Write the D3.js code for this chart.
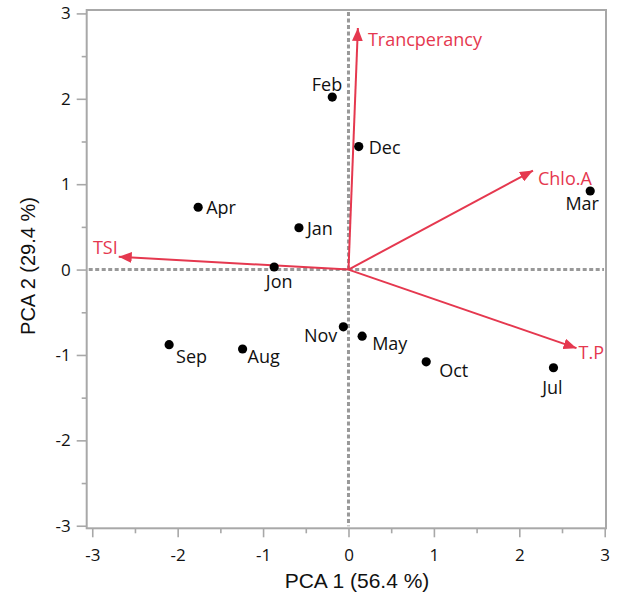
<!DOCTYPE html>
<html>
<head>
<meta charset="utf-8">
<script src="https://cdn.jsdelivr.net/npm/d3@7"></script>
<style>
  html, body { margin: 0; padding: 0; background: #ffffff; }
  svg { display: block; }
</style>
</head>
<body>
<div id="chart"></div>
<script>
// Sample scores (months) on the first two principal components
const months = ["Feb", "Dec", "Mar", "Apr", "Jan", "Jon", "Sep", "Aug", "Nov", "May", "Oct", "Jul"];
const pc1Scores = [-0.19, 0.12, 2.83, -1.76, -0.58, -0.87, -2.10, -1.24, -0.06, 0.16, 0.91, 2.40];
const pc2Scores = [2.02, 1.44, 0.92, 0.73, 0.49, 0.03, -0.88, -0.93, -0.67, -0.78, -1.08, -1.15];

// Variable loadings (arrow tips)
const variables = ["Trancperancy", "Chlo.A", "TSI", "T.P"];
const pc1Loadings = [0.11, 2.16, -2.69, 2.67];
const pc2Loadings = [2.83, 1.16, 0.15, -0.92];

// Axis ticks
const xTicks = [-3, -2, -1, 0, 1, 2, 3];
const yTicks = [-3, -2, -1, 0, 1, 2, 3];
const xMinorTicks = [-2.5, -1.5, -0.5, 0.5, 1.5, 2.5];
const yMinorTicks = [-2.5, -1.5, -0.5, 0.5, 1.5, 2.5];
const xTitle = "PCA 1 (56.4 %)";
const yTitle = "PCA 2 (29.4 %)";

const W = 621, H = 594;
const plotLeft = 86.7, plotRight = 606, plotTop = 10, plotBottom = 528.3;
const red = "#e5384f";

const x = d3.scaleLinear().domain([-3.065, 3.015]).range([plotLeft, plotRight]);
const y = d3.scaleLinear().domain([-3.03, 3.04]).range([plotBottom, plotTop]);

const svg = d3.select("#chart").append("svg")
  .attr("width", W).attr("height", H);

const defs = svg.append("defs");
defs.append("marker")
  .attr("id", "arrowhead")
  .attr("viewBox", "0 0 12 10")
  .attr("refX", 12).attr("refY", 5)
  .attr("markerWidth", 13).attr("markerHeight", 11)
  .attr("markerUnits", "userSpaceOnUse")
  .attr("orient", "auto")
  .append("path")
  .attr("d", "M0,0 L12,5 L0,10 Z")
  .attr("fill", red);

// Zero reference lines
const zero = svg.append("g").attr("stroke", "#999").attr("stroke-width", 3)
  .attr("stroke-dasharray", "4,2.5");
zero.append("line").attr("x1", plotLeft + 2).attr("x2", plotRight - 2)
  .attr("y1", y(0)).attr("y2", y(0));
zero.append("line").attr("x1", x(0)).attr("x2", x(0))
  .attr("y1", plotTop + 2).attr("y2", plotBottom - 2);

// Frame
const frameColor = "#a8a8a8";
svg.append("rect")
  .attr("x", plotLeft).attr("y", plotTop)
  .attr("width", plotRight - plotLeft).attr("height", plotBottom - plotTop)
  .attr("fill", "none").attr("stroke", frameColor).attr("stroke-width", 2);

const fmt = d => String(d);

// X axis
svg.append("g").attr("transform", `translate(0,${plotBottom})`)
  .call(d3.axisBottom(x).tickValues(xTicks).tickSize(9).tickPadding(12).tickFormat(fmt));
svg.append("g").attr("transform", `translate(0,${plotBottom})`)
  .call(d3.axisBottom(x).tickValues(xMinorTicks).tickSize(5).tickFormat(""));

// Y axis
svg.append("g").attr("transform", `translate(${plotLeft},0)`)
  .call(d3.axisLeft(y).tickValues(yTicks).tickSize(10).tickPadding(6).tickFormat(fmt));
svg.append("g").attr("transform", `translate(${plotLeft},0)`)
  .call(d3.axisLeft(y).tickValues(yMinorTicks).tickSize(5).tickFormat(""));

svg.selectAll(".domain").remove();
svg.selectAll(".tick line").attr("stroke", frameColor).attr("stroke-width", 1.6);
svg.selectAll(".tick text")
  .attr("font-family", "'Open Sans', sans-serif")
  .attr("font-size", 17).attr("fill", "#111");

// Axis titles
svg.append("text")
  .attr("x", 357).attr("y", 588)
  .attr("text-anchor", "middle")
  .attr("font-family", "'Liberation Sans', Arial, sans-serif")
  .attr("font-size", 21).attr("fill", "#111")
  .text(xTitle);
svg.append("text")
  .attr("transform", `translate(35,266) rotate(-90)`)
  .attr("text-anchor", "middle")
  .attr("font-family", "'Liberation Sans', Arial, sans-serif")
  .attr("font-size", 20).attr("fill", "#111")
  .text(yTitle);

// Loading arrows
const loadings = variables.map((name, i) => ({ name, pc1: pc1Loadings[i], pc2: pc2Loadings[i] }));
svg.append("g").selectAll("line").data(loadings).join("line")
  .attr("x1", x(0)).attr("y1", y(0))
  .attr("x2", d => x(d.pc1)).attr("y2", d => y(d.pc2))
  .attr("stroke", red).attr("stroke-width", 2)
  .attr("marker-end", "url(#arrowhead)");

// Loading label placement (offset from arrow tip)
const loadLabelPos = {
  "Trancperancy": { dx: 10, dy: 18, anchor: "start" },
  "Chlo.A": { dx: 5, dy: 14, anchor: "start" },
  "TSI": { dx: -1, dy: -3, anchor: "end" },
  "T.P": { dx: 2, dy: 11, anchor: "start" }
};
svg.append("g").selectAll("text").data(loadings).join("text")
  .attr("x", d => x(d.pc1) + loadLabelPos[d.name].dx)
  .attr("y", d => y(d.pc2) + loadLabelPos[d.name].dy)
  .attr("text-anchor", d => loadLabelPos[d.name].anchor)
  .attr("font-family", "'Open Sans', sans-serif")
  .attr("font-size", 18).attr("fill", red)
  .text(d => d.name);

// Score points
const scores = months.map((name, i) => ({ name, pc1: pc1Scores[i], pc2: pc2Scores[i] }));
svg.append("g").selectAll("circle").data(scores).join("circle")
  .attr("cx", d => x(d.pc1)).attr("cy", d => y(d.pc2))
  .attr("r", 4.6).attr("fill", "#000");

// Score label placement (offset from point, baseline)
const scoreLabelPos = {
  "Feb": { dx: 10, dy: -6, anchor: "end" },
  "Dec": { dx: 10, dy: 7, anchor: "start" },
  "Mar": { dx: -8, dy: 19, anchor: "middle" },
  "Apr": { dx: 8, dy: 7, anchor: "start" },
  "Jan": { dx: 8, dy: 7, anchor: "start" },
  "Jon": { dx: 5, dy: 21, anchor: "middle" },
  "Sep": { dx: 7, dy: 18, anchor: "start" },
  "Aug": { dx: 5, dy: 14, anchor: "start" },
  "Nov": { dx: -6, dy: 15, anchor: "end" },
  "May": { dx: 10, dy: 14, anchor: "start" },
  "Oct": { dx: 13, dy: 15, anchor: "start" },
  "Jul": { dx: -1, dy: 26, anchor: "middle" }
};
svg.append("g").selectAll("text").data(scores).join("text")
  .attr("x", d => x(d.pc1) + scoreLabelPos[d.name].dx)
  .attr("y", d => y(d.pc2) + scoreLabelPos[d.name].dy)
  .attr("text-anchor", d => scoreLabelPos[d.name].anchor)
  .attr("font-family", "'Open Sans', sans-serif")
  .attr("font-size", 18).attr("fill", "#111")
  .text(d => d.name);
</script>
</body>
</html>
